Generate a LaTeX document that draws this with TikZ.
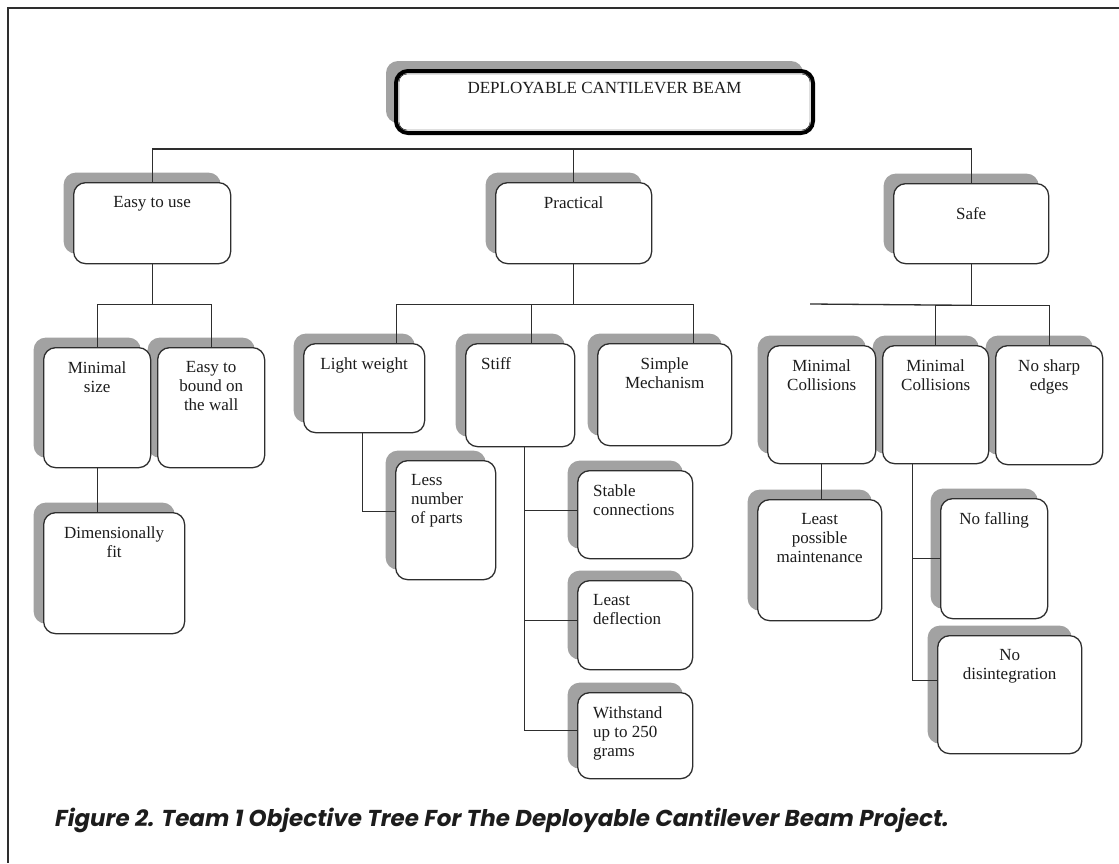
\documentclass[tikz,border=0pt]{standalone}
\usepackage{fontspec}
\setmainfont{Liberation Serif}
\newfontfamily\capfont{Poppins}
\usetikzlibrary{positioning,shadows}
\definecolor{shade}{HTML}{A2A2A2}
\definecolor{edge}{HTML}{2E2E2E}
\definecolor{ink}{HTML}{1C1C1C}
\tikzset{
  obj/.style = {draw=edge, line width=1.3pt, fill=white, rounded corners=12pt,
    anchor=north west, inner sep=0pt,
    drop shadow={shadow xshift=-10pt, shadow yshift=10pt, fill=shade, opacity=1}},
  headbox/.style = {draw=black, line width=4pt, fill=white, rounded corners=12pt,
    anchor=north west, inner sep=0pt,
    drop shadow={shadow xshift=-10pt, shadow yshift=10pt, fill=shade, opacity=1}},
  txt/.style = {inner sep=0pt, align=center, text=ink, font=\fontsize{17}{19}\selectfont},
  mid/.style = {label={[txt, anchor=north, yshift=-14.5pt]north:{#1}}},
  lft/.style = {label={[txt, align=left, anchor=north west, xshift=16pt, yshift=-14.5pt]north west:{#1}}},
  link/.style = {draw=edge, line width=1.3pt},
  frame/.style = {draw=edge, line width=1.5pt},
  captxt/.style = {inner sep=0pt, text=ink, font=\capfont\bfseries\itshape\fontsize{23}{27}\selectfont}
}

\begin{document}
\begin{tikzpicture}[x=1pt,y=-1pt]
  \useasboundingbox[fill=white] (0,0) rectangle (1119,863);
  \draw[frame] (1119,8) -- (8,8) -- (8,863);

  % top of the tree
  \node[headbox, minimum width=417pt, minimum height=62pt,
    label={[txt, anchor=north, yshift=-13pt]north:DEPLOYABLE CANTILEVER BEAM}] (beam) at (394,69) {};
  \draw[thin] ([shift={(5pt,-5pt)}]beam.north west) [rounded corners=8pt] rectangle ([shift={(-5pt,5pt)}]beam.south east);

  % first level
  \node[obj, minimum width=157pt, minimum height=81pt, mid={Easy to use}] (easy) at (73,182) {};
  \node[obj, minimum width=156pt, minimum height=81pt, mid={Practical}] (prac) at (495,182) {};
  \node[obj, minimum width=155pt, minimum height=80pt,
    label={[txt, anchor=north, yshift=-24.5pt]north:Safe}] (safe) at (893,183) {};

  % easy to use
  \node[obj, minimum width=107pt, minimum height=120pt, mid={Easy to\\bound on\\the wall}] (bound) at (157,347) {};
  \node[obj, minimum width=107pt, minimum height=120pt, mid={Minimal\\size}] (minsize) at (43,347) {};
  \node[obj, minimum width=141pt, minimum height=121pt, mid={Dimensionally\\fit}] (dimfit) at (43,512) {};

  % practical
  \node[obj, minimum width=134pt, minimum height=102pt, mid={Simple\\Mechanism}] (simple) at (597,343) {};
  \node[obj, minimum width=109pt, minimum height=103pt, lft={Stiff}] (stiff) at (465,343) {};
  \node[obj, minimum width=121pt, minimum height=89pt, mid={Light weight}] (light) at (303,343) {};
  \node[obj, minimum width=100pt, minimum height=119pt, lft={Less\\number\\of parts}] (less) at (395,460) {};
  \node[obj, minimum width=115pt, minimum height=88pt, lft={Stable\\connections}] (stable) at (577,470) {};
  \node[obj, minimum width=115pt, minimum height=89pt, lft={Least\\deflection}] (defl) at (577,580) {};
  \node[obj, minimum width=115pt, minimum height=86pt, lft={Withstand\\up to 250\\grams}] (load) at (577,692) {};

  % safe
  \node[obj, minimum width=107pt, minimum height=119pt, mid={No sharp\\edges}] (sharp) at (995,345) {};
  \node[obj, minimum width=106pt, minimum height=118pt, mid={Minimal\\Collisions}] (coll2) at (882,345) {};
  \node[obj, minimum width=108pt, minimum height=118pt, mid={Minimal\\Collisions}] (coll1) at (767,345) {};
  \node[obj, minimum width=124pt, minimum height=121pt, mid={Least\\possible\\maintenance}] (maint) at (757,499) {};
  \node[obj, minimum width=107pt, minimum height=120pt, mid={No falling}] (fall) at (940,498) {};
  \node[obj, minimum width=144pt, minimum height=118pt, mid={No\\disintegration}] (disint) at (937,635) {};

  % connectors
  \draw[link] (easy.north) -- ++(0,-33) coordinate (tj) -| (safe.north);
  \draw[link] (prac.north) -- (prac.north |- tj);
  \draw[link] (easy.south) -- ++(0,40) coordinate (ej);
  \draw[link] (minsize.north) |- (ej) -| (bound.north);
  \draw[link] (minsize.south) -- (minsize.south |- dimfit.north);

  \draw[link] (prac.south) -- ++(0,40) coordinate (pj);
  \draw[link] ([xshift=32pt]light.north) |- (pj) -| ([xshift=29pt]simple.north);
  \draw[link] ([xshift=11pt]stiff.north) -- ([xshift=11pt]stiff.north |- pj);
  \draw[link] ([xshift=-2pt]light.south) |- ([yshift=9pt]less.west);
  \draw[link] ([xshift=4pt]stiff.south) |- ([yshift=4pt]stable.west);
  \draw[link] ([xshift=4pt]stiff.south) |- ([yshift=5pt]defl.west);
  \draw[link] ([xshift=4pt]stiff.south) |- ([yshift=5pt]load.west);

  \draw[link] (safe.south) -- ++(0,41) coordinate (sj);
  \coordinate (sfree) at (810,304);
  \draw[link] (coll2.north) |- (sj) -| (sharp.north);
  \draw[link] (sj) -- (sfree);
  \draw[link] (coll1.south) -- (coll1.south |- maint.north);
  \draw[link] ([xshift=-23pt]coll2.south) |- (fall.west);
  \draw[link] ([xshift=-23pt]coll2.south) |- ([yshift=14pt]disint.west);

  \node[captxt, anchor=base west] (caption) at (55,826.5)
    {Figure 2. Team 1 Objective Tree For The Deployable Cantilever Beam Project.};
\end{tikzpicture}
\end{document}
